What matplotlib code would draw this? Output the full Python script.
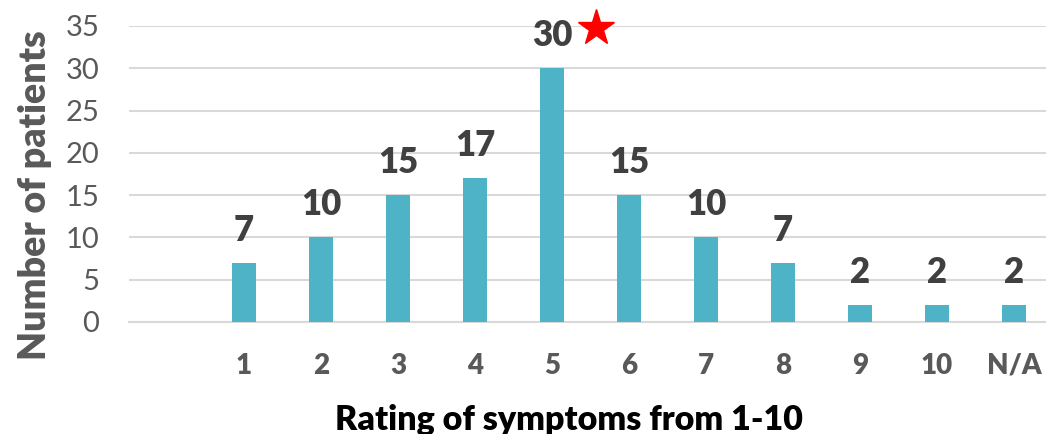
import matplotlib.pyplot as plt

categories = ['', '1', '2', '3', '4', '5', '6', '7', '8', '9', '10', 'N/A']
patients = [None, 7, 10, 15, 17, 30, 15, 10, 7, 2, 2, 2]
y_ticks = [0, 5, 10, 15, 20, 25, 30, 35]

plt.rcParams['font.family'] = ['Lato', 'DejaVu Sans']

bar_color = '#4fb3c8'
grid_color = '#d9d9d9'

fig = plt.figure(figsize=(10.46, 4.34), dpi=100)
ax = fig.add_axes([128.5 / 1046, 112 / 434, 1 - 128.5 / 1046, 296 / 434])

xs = list(range(len(categories)))
vals = [0 if v is None else v for v in patients]
ax.bar(xs, vals, width=0.31, color=bar_color, zorder=3)

for x, v in zip(xs, patients):
    if v is None:
        continue
    ax.annotate(str(v), (x, v), xytext=(0, 11.5), textcoords='offset points',
                ha='center', va='bottom', fontsize=25, fontweight='heavy',
                color='#404040')

# star next to the peak label
ax.plot([5.57], [34.75], marker='*', color='red', markersize=27,
        clip_on=False, zorder=5, linestyle='none')

ax.set_xlim(-0.5, -0.5 + (1046 - 128.5) / 77)
ax.set_ylim(0, 35)
ax.set_yticks(y_ticks)
ax.set_xticks(xs)
ax.set_xticklabels(categories)

ax.yaxis.grid(True, color=grid_color, linewidth=1.5, zorder=0)
ax.set_axisbelow(True)
for s in ['top', 'right', 'left']:
    ax.spines[s].set_visible(False)
ax.spines['bottom'].set_color(grid_color)
ax.spines['bottom'].set_linewidth(1.5)

ax.tick_params(axis='y', length=0, pad=21, labelsize=21, labelcolor='#595959')
ax.tick_params(axis='x', length=0, pad=22, labelsize=20, labelcolor='#595959')
for lbl in ax.get_xticklabels():
    lbl.set_fontweight('heavy')

fig.text(35 / 1046, 1 - 195 / 434, 'Number of patients', rotation=90,
         ha='center', va='center', fontsize=27, fontweight='heavy', color='#595959')
fig.text(569 / 1046, 1 - 430 / 434, 'Rating of symptoms from 1-10',
         ha='center', va='baseline', fontsize=24.5, fontweight='heavy', color='#000000')

fig.savefig('out.png', dpi=100)
